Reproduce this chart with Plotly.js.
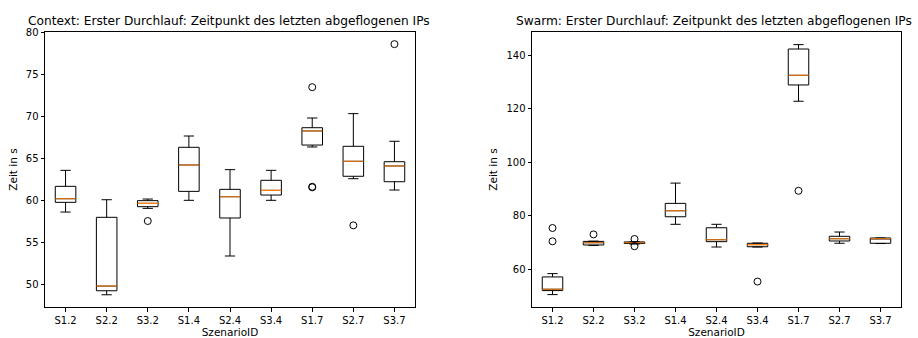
<!DOCTYPE html>
<html>
<head>
<meta charset="utf-8">
<script src="https://cdn.plot.ly/plotly-3.0.1.min.js"></script>
<style>html,body{margin:0;padding:0;background:#fff;}#chart{width:918px;height:338px;}</style>
</head>
<body>
<div id="chart"></div>
<script>
// Categories
const scenarios = ["S1.2","S2.2","S3.2","S1.4","S2.4","S3.4","S1.7","S2.7","S3.7"];

// Context (left) box statistics
const ctxLowerWhisker = [58.6, 48.72, 59.04, 60.0, 53.35, 60.0, 66.37, 62.58, 61.23];
const ctxQ1           = [59.76, 49.2, 59.24, 61.07, 57.89, 60.63, 66.6, 62.87, 62.22];
const ctxMedian       = [60.19, 49.76, 59.64, 64.22, 60.43, 61.19, 68.28, 64.66, 64.1];
const ctxQ3           = [61.67, 57.97, 59.96, 66.33, 61.31, 62.39, 68.67, 66.45, 64.61];
const ctxUpperWhisker = [63.58, 60.07, 60.15, 67.68, 63.66, 63.58, 69.83, 70.35, 67.05];
const ctxOutlierX     = ["S3.2","S1.7","S1.7","S1.7","S2.7","S3.7"];
const ctxOutlierY     = [57.53, 61.55, 61.62, 73.51, 57.01, 78.65];

// Swarm (right) box statistics
const swLowerWhisker = [50.53, 68.9, 69.4, 76.78, 68.3, 68.3, 122.74, 69.7, 69.6];
const swQ1           = [52.03, 69.06, 69.6, 79.6, 70.3, 68.4, 128.82, 70.55, 69.7];
const swMedian       = [52.54, 69.9, 69.9, 81.85, 71.03, 69.2, 132.43, 71.4, 71.4];
const swQ3           = [57.13, 70.4, 70.2, 84.6, 75.5, 69.7, 142.24, 72.3, 71.67];
const swUpperWhisker = [58.37, 70.5, 70.3, 92.17, 76.78, 69.8, 143.88, 73.9, 71.7];
const swOutlierX     = ["S1.2","S1.2","S2.2","S3.2","S3.2","S3.4","S1.7"];
const swOutlierY     = [75.4, 70.43, 73.0, 71.3, 68.6, 55.4, 89.3];

const font = "DejaVu Sans, sans-serif";

function boxTrace(xa, ya, lo, q1, med, q3, hi) {
  return {
    type: "box", x: scenarios, xaxis: xa, yaxis: ya,
    lowerfence: lo, q1: q1, median: med, q3: q3, upperfence: hi,
    width: 0.5, whiskerwidth: 0.5,
    line: {color: "#000", width: 1}, fillcolor: "rgba(255,255,255,0)",
    boxpoints: false, hoverinfo: "skip", showlegend: false
  };
}
function medianTrace(xa, ya, med) {
  return {
    type: "box", x: scenarios, xaxis: xa, yaxis: ya,
    lowerfence: med, q1: med, median: med, q3: med, upperfence: med,
    width: 0.5, whiskerwidth: 0,
    line: {color: "#ff7f0e", width: 1.1}, fillcolor: "rgba(0,0,0,0)",
    boxpoints: false, hoverinfo: "skip", showlegend: false
  };
}
function outlierTrace(xa, ya, xs, ys) {
  return {
    type: "scatter", mode: "markers", x: xs, y: ys, xaxis: xa, yaxis: ya,
    marker: {symbol: "circle-open", size: 7, color: "#000", line: {width: 1, color: "#000"}},
    hoverinfo: "skip", showlegend: false
  };
}

const data = [
  boxTrace("x", "y", ctxLowerWhisker, ctxQ1, ctxMedian, ctxQ3, ctxUpperWhisker),
  medianTrace("x", "y", ctxMedian),
  outlierTrace("x", "y", ctxOutlierX, ctxOutlierY),
  boxTrace("x2", "y2", swLowerWhisker, swQ1, swMedian, swQ3, swUpperWhisker),
  medianTrace("x2", "y2", swMedian),
  outlierTrace("x2", "y2", swOutlierX, swOutlierY)
];

const axisCommon = {
  showline: true, mirror: true, linecolor: "#000", linewidth: 1,
  ticks: "outside", ticklen: 3.5, tickwidth: 1, tickcolor: "#000",
  showgrid: false, zeroline: false,
  tickfont: {family: font, size: 10, color: "#000"}
};
const yDomain = [1 - 307/338, 1 - 32/338];

const layout = {
  width: 918, height: 338,
  margin: {l: 0, r: 0, t: 0, b: 0},
  paper_bgcolor: "#fff", plot_bgcolor: "#fff",
  font: {family: font, color: "#000"},
  showlegend: false,
  boxmode: "overlay",
  xaxis: Object.assign({}, axisCommon, {
    domain: [45/918, 415/918], type: "category",
    categoryorder: "array", categoryarray: scenarios, range: [-0.5, 8.5],
    title: {text: "SzenarioID", font: {family: font, size: 10.5}, standoff: 4}
  }),
  yaxis: Object.assign({}, axisCommon, {
    domain: yDomain, anchor: "x", range: [47.26, 80.1], dtick: 5, tick0: 0,
    title: {text: "Zeit in s", font: {family: font, size: 10.5}, standoff: 6}
  }),
  xaxis2: Object.assign({}, axisCommon, {
    domain: [532/918, 901/918], anchor: "y2", type: "category",
    categoryorder: "array", categoryarray: scenarios, range: [-0.5, 8.5],
    title: {text: "SzenarioID", font: {family: font, size: 10.5}, standoff: 4}
  }),
  yaxis2: Object.assign({}, axisCommon, {
    domain: yDomain, anchor: "x2", range: [45.9, 148.6], dtick: 20, tick0: 0,
    title: {text: "Zeit in s", font: {family: font, size: 10.5}, standoff: 6}
  }),
  annotations: [
    {text: "Context: Erster Durchlauf: Zeitpunkt des letzten abgeflogenen IPs",
     xref: "paper", yref: "paper", x: 229/918, y: yDomain[1], xanchor: "center", yanchor: "bottom",
     yshift: 2, showarrow: false, font: {family: font, size: 12.2, color: "#000"}},
    {text: "Swarm: Erster Durchlauf: Zeitpunkt des letzten abgeflogenen IPs",
     xref: "paper", yref: "paper", x: 714/918, y: yDomain[1], xanchor: "center", yanchor: "bottom",
     yshift: 2, showarrow: false, font: {family: font, size: 12.2, color: "#000"}}
  ]
};

Plotly.newPlot("chart", data, layout, {staticPlot: true, displayModeBar: false});
</script>
</body>
</html>
